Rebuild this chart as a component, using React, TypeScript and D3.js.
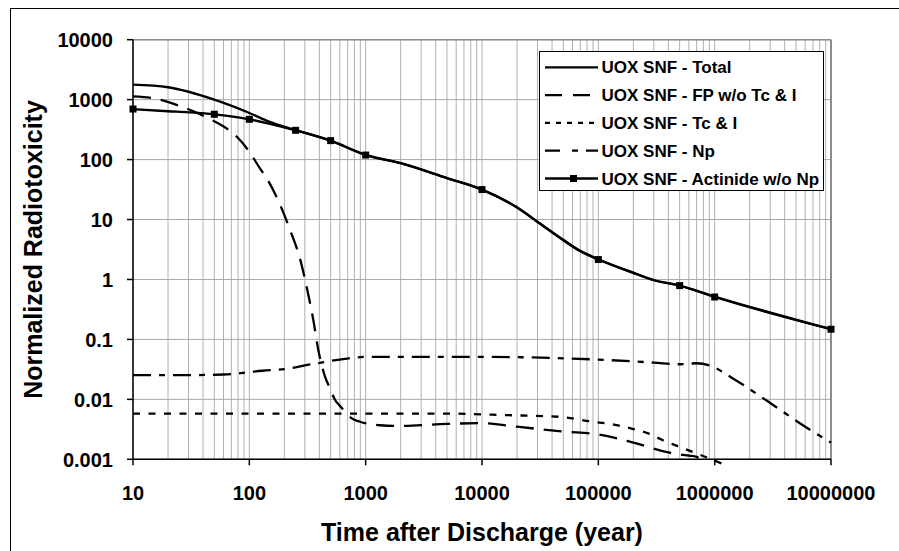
import React from 'react';
import * as d3 from 'd3';

// axis ticks
const xTickValues = [10, 100, 1000, 10000, 100000, 1000000, 10000000];
const xTickLabels = ['10', '100', '1000', '10000', '100000', '1000000', '10000000'];
const yTickValues = [0.001, 0.01, 0.1, 1, 10, 100, 1000, 10000];
const yTickLabels = ['0.001', '0.01', '0.1', '1', '10', '100', '1000', '10000'];

// UOX SNF - Total
const totalYears = [10, 20, 50, 100, 150, 250, 500, 1000, 2000, 5000, 10000, 20000, 30000, 50000, 70000, 100000, 200000, 300000, 500000, 1000000, 10000000];
const totalValues = [1780, 1610, 1000, 600, 425, 310, 207, 120, 87, 49, 31.6, 16, 9.2, 4.6, 3.0, 2.18, 1.3, 0.98, 0.79, 0.52, 0.148];

// UOX SNF - FP w/o Tc & I
const fpYears = [10, 15, 25, 43, 68, 80, 100, 123, 141, 184, 224, 277, 315, 355, 392, 448, 494, 546, 594, 688, 760, 896, 1330, 2000, 5000, 10000, 20000, 50000, 100000, 200000, 400000, 600000, 700000, 780000];
const fpValues = [1130, 1050, 790, 505, 302, 229, 135, 72, 49, 17.5, 6.7, 1.98, 0.665, 0.21, 0.066, 0.0238, 0.0153, 0.00975, 0.008, 0.00584, 0.0048, 0.00423, 0.0037, 0.0036, 0.0039, 0.004, 0.0035, 0.0029, 0.0026, 0.0019, 0.0013, 0.00115, 0.0011, 0.00095];

// UOX SNF - Tc & I
const tcYears = [10, 1000, 5000, 10000, 20000, 47000, 85000, 145000, 200000, 268000, 355000, 505000, 700000, 1000000, 1150000];
const tcValues = [0.0058, 0.0058, 0.0058, 0.0056, 0.0054, 0.0051, 0.0043, 0.0037, 0.0032, 0.0027, 0.0021, 0.0016, 0.00125, 0.00095, 0.00085];

// UOX SNF - Np
const npYears = [10, 30, 60, 130, 200, 355, 640, 1000, 10000, 100000, 300000, 500000, 700000, 900000, 1400000, 2900000, 6000000, 10000000];
const npValues = [0.0254, 0.0254, 0.026, 0.030, 0.032, 0.039, 0.047, 0.051, 0.051, 0.046, 0.041, 0.0385, 0.040, 0.037, 0.023, 0.0091, 0.0035, 0.0019];

// UOX SNF - Actinide w/o Np
const actYears = [10, 20, 30, 50, 100, 150, 250, 500, 1000, 2000, 5000, 10000, 20000, 30000, 50000, 70000, 100000, 200000, 300000, 500000, 1000000, 10000000];
const actValues = [697, 640, 614, 570, 470, 395, 308, 207, 119, 87, 49, 31.6, 15.8, 9.1, 4.5, 2.95, 2.15, 1.28, 0.97, 0.79, 0.51, 0.148];
const actMarkerYears = [10, 50, 100, 250, 500, 1000, 10000, 100000, 500000, 1000000, 10000000];

const seriesNames = [
  'UOX SNF - Total',
  'UOX SNF - FP w/o Tc & I',
  'UOX SNF - Tc & I',
  'UOX SNF - Np',
  'UOX SNF - Actinide w/o Np',
];

const FONT = '"Liberation Sans", Arial, sans-serif';

export default function App() {
  const width = 899;
  const height = 551;
  const left = 133, right = 831, top = 39.7, bottom = 459.3;

  const x = d3.scaleLog().domain([10, 1e7]).range([left, right]);
  const y = d3.scaleLog().domain([0.001, 10000]).range([bottom, top]);

  const series = [
    { years: totalYears, values: totalValues, dash: null, legendDash: null },
    { years: fpYears, values: fpValues, dash: '18,10', legendDash: '17,11' },
    { years: tcYears, values: tcValues, dash: '7,8.5', legendDash: '5,6' },
    { years: npYears, values: npValues, dash: '18,8,6,8', legendDash: '15,12,6,8' },
    { years: actYears, values: actValues, dash: null, legendDash: null },
  ];

  const line = d3.line<[number, number]>()
    .x(d => x(d[0]))
    .y(d => y(d[1]))
    .curve(d3.curveMonotoneX);

  // minor x grid
  const minorX: number[] = [];
  for (let e = 1; e < 7; e++) {
    for (let k = 2; k <= 9; k++) minorX.push(k * Math.pow(10, e));
  }

  const actMarkers = actMarkerYears.map(t => [t, actValues[actYears.indexOf(t)]] as [number, number]);

  const legendX = 539.5, legendY = 51.5, legendW = 284, legendH = 139;
  const rowH = 27.8;

  return (
    <svg width={width} height={height} style={{ position: 'absolute', left: 0, top: 0, background: '#fff' }}>
      <rect x={10.5} y={8.5} width={900} height={600} fill="#fff" stroke="#000" strokeWidth={1} />

      {/* grid */}
      {minorX.map((t, i) => (
        <line key={'mx' + i} x1={x(t)} x2={x(t)} y1={top} y2={bottom} stroke="#b0b0b0" strokeWidth={1} />
      ))}
      {xTickValues.map((t, i) => (
        <line key={'gx' + i} x1={x(t)} x2={x(t)} y1={top} y2={bottom} stroke="#b0b0b0" strokeWidth={1} />
      ))}
      {yTickValues.map((v, i) => (
        <line key={'gy' + i} x1={left} x2={right} y1={y(v)} y2={y(v)} stroke="#a8a8a8" strokeWidth={1} />
      ))}

      {/* plot frame */}
      <line x1={left} x2={right} y1={top} y2={top} stroke="#8c8c8c" strokeWidth={1.5} />
      <line x1={right} x2={right} y1={top} y2={bottom} stroke="#8c8c8c" strokeWidth={2} />

      {/* series */}
      {series.map((s, i) => (
        <path
          key={'s' + i}
          d={line(s.years.map((t, j) => [t, s.values[j]] as [number, number])) || ''}
          fill="none"
          stroke="#000"
          strokeWidth={2.3}
          strokeDasharray={s.dash || undefined}
        />
      ))}
      {actMarkers.map((d, i) => (
        <rect key={'m' + i} x={x(d[0]) - 3.5} y={y(d[1]) - 3.5} width={7} height={7} fill="#000" />
      ))}

      {/* axes */}
      <line x1={left} x2={left} y1={top} y2={bottom} stroke="#000" strokeWidth={1.5} />
      <line x1={left} x2={right} y1={bottom} y2={bottom} stroke="#000" strokeWidth={1.5} />
      {yTickValues.map((v, i) => (
        <g key={'yt' + i}>
          <line x1={left - 6} x2={left} y1={y(v)} y2={y(v)} stroke="#000" strokeWidth={1.5} />
          <text x={113} y={y(v) + 7.5} textAnchor="end" fontFamily={FONT} fontWeight="bold" fontSize={20} fill="#000">
            {yTickLabels[i]}
          </text>
        </g>
      ))}
      {xTickValues.map((t, i) => (
        <g key={'xt' + i}>
          <line x1={x(t)} x2={x(t)} y1={bottom} y2={bottom + 6} stroke="#000" strokeWidth={1.5} />
          <text x={x(t)} y={500} textAnchor="middle" fontFamily={FONT} fontWeight="bold" fontSize={20} fill="#000">
            {xTickLabels[i]}
          </text>
        </g>
      ))}

      {/* axis titles */}
      <text x={(left + right) / 2} y={541} textAnchor="middle" fontFamily={FONT} fontWeight="bold" fontSize={25} fill="#000">
        Time after Discharge (year)
      </text>
      <text
        transform={`translate(42,${(top + bottom) / 2}) rotate(-90)`}
        textAnchor="middle"
        fontFamily={FONT}
        fontWeight="bold"
        fontSize={25}
        fill="#000"
      >
        Normalized Radiotoxicity
      </text>

      {/* legend */}
      <rect x={legendX} y={legendY} width={legendW} height={legendH} fill="#fff" stroke="#000" strokeWidth={1} />
      {seriesNames.map((name, i) => {
        const cy = 67.3 + i * rowH;
        return (
          <g key={'lg' + i}>
            <line x1={545} x2={598} y1={cy} y2={cy} stroke="#000" strokeWidth={2.3}
              strokeDasharray={series[i].legendDash || undefined} />
            {i === 4 && <rect x={573.5 - 3.5} y={cy - 3.5} width={7} height={7} fill="#000" />}
            <text x={601.5} y={cy + 6} fontFamily={FONT} fontWeight="bold" fontSize={17} fill="#000">
              {name}
            </text>
          </g>
        );
      })}
    </svg>
  );
}
